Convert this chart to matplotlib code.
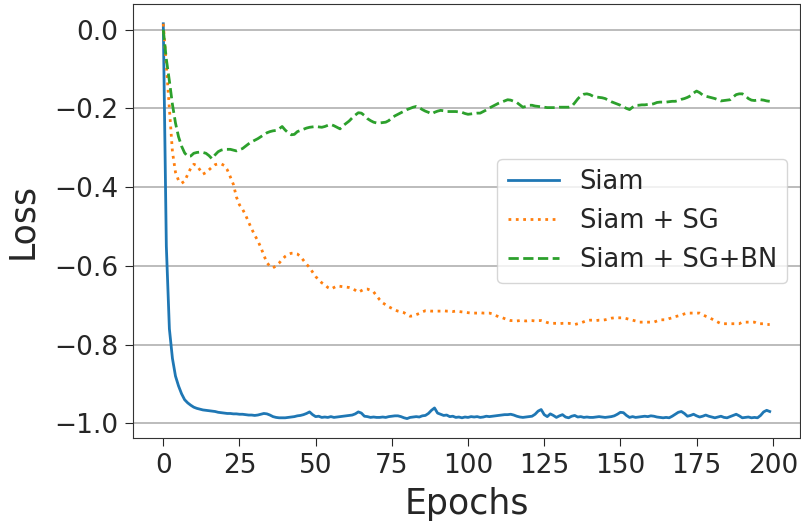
import matplotlib
matplotlib.use("Agg")
import matplotlib.pyplot as plt

# --------------------- DATOS --------------------- #
epochs = list(range(200))

siam = [
    0.015, -0.55, -0.76, -0.835, -0.88, -0.905, -0.925, -0.94, -0.948, -0.954,
    -0.959, -0.962, -0.964, -0.966, -0.967, -0.968, -0.969, -0.970, -0.972, -0.973,
    -0.974, -0.975, -0.975, -0.976, -0.976, -0.977, -0.977, -0.978, -0.979, -0.979,
    -0.980, -0.979, -0.977, -0.975, -0.976, -0.979, -0.983, -0.985, -0.986, -0.986,
    -0.986, -0.985, -0.984, -0.983, -0.981, -0.980, -0.978, -0.975, -0.971, -0.978,
    -0.983, -0.982, -0.985, -0.984, -0.985, -0.983, -0.985, -0.984, -0.983, -0.982,
    -0.981, -0.980, -0.979, -0.976, -0.971, -0.974, -0.982, -0.983, -0.985, -0.984,
    -0.985, -0.985, -0.984, -0.985, -0.983, -0.982, -0.981, -0.981, -0.983, -0.986,
    -0.988, -0.985, -0.984, -0.983, -0.984, -0.981, -0.980, -0.975, -0.967, -0.961,
    -0.974, -0.977, -0.980, -0.979, -0.983, -0.982, -0.985, -0.984, -0.986, -0.984,
    -0.985, -0.983, -0.984, -0.983, -0.985, -0.984, -0.982, -0.983, -0.982, -0.981,
    -0.980, -0.979, -0.978, -0.978, -0.977, -0.979, -0.982, -0.984, -0.985, -0.984,
    -0.983, -0.982, -0.977, -0.969, -0.965, -0.978, -0.983, -0.976, -0.980, -0.985,
    -0.981, -0.978, -0.984, -0.986, -0.982, -0.980, -0.984, -0.983, -0.985, -0.984,
    -0.985, -0.985, -0.984, -0.983, -0.984, -0.985, -0.984, -0.983, -0.981, -0.977,
    -0.972, -0.973, -0.980, -0.985, -0.983, -0.985, -0.984, -0.983, -0.982, -0.983,
    -0.981, -0.982, -0.984, -0.985, -0.986, -0.985, -0.986, -0.982, -0.977, -0.972,
    -0.970, -0.975, -0.982, -0.980, -0.977, -0.981, -0.984, -0.982, -0.979, -0.982,
    -0.984, -0.986, -0.984, -0.982, -0.985, -0.986, -0.983, -0.980, -0.977, -0.981,
    -0.986, -0.985, -0.984, -0.986, -0.985, -0.986, -0.980, -0.971, -0.967, -0.970,
]

siam_sg = [
    0.015, -0.09, -0.20, -0.31, -0.362, -0.383, -0.390, -0.385, -0.368, -0.352,
    -0.342, -0.345, -0.356, -0.367, -0.363, -0.356, -0.349, -0.343, -0.341, -0.341,
    -0.345, -0.356, -0.374, -0.393, -0.425, -0.445, -0.456, -0.471, -0.489, -0.506,
    -0.522, -0.536, -0.553, -0.573, -0.592, -0.601, -0.605, -0.600, -0.593, -0.584,
    -0.576, -0.571, -0.568, -0.568, -0.570, -0.576, -0.586, -0.596, -0.604, -0.616,
    -0.627, -0.636, -0.643, -0.648, -0.655, -0.659, -0.655, -0.651, -0.652, -0.653,
    -0.654, -0.655, -0.657, -0.662, -0.667, -0.663, -0.659, -0.659, -0.662, -0.666,
    -0.676, -0.686, -0.694, -0.699, -0.704, -0.708, -0.712, -0.715, -0.717, -0.719,
    -0.724, -0.728, -0.727, -0.724, -0.721, -0.717, -0.714, -0.714, -0.715, -0.715,
    -0.715, -0.715, -0.714, -0.715, -0.715, -0.716, -0.715, -0.716, -0.717, -0.718,
    -0.719, -0.720, -0.720, -0.720, -0.719, -0.720, -0.720, -0.720, -0.722, -0.726,
    -0.729, -0.731, -0.734, -0.737, -0.739, -0.739, -0.740, -0.739, -0.739, -0.740,
    -0.739, -0.739, -0.740, -0.739, -0.739, -0.741, -0.744, -0.746, -0.746, -0.746,
    -0.747, -0.746, -0.746, -0.746, -0.747, -0.749, -0.747, -0.745, -0.742, -0.739,
    -0.738, -0.738, -0.739, -0.738, -0.738, -0.737, -0.735, -0.733, -0.732, -0.732,
    -0.732, -0.732, -0.734, -0.736, -0.738, -0.740, -0.743, -0.743, -0.743, -0.743,
    -0.743, -0.743, -0.740, -0.737, -0.737, -0.737, -0.734, -0.732, -0.729, -0.727,
    -0.725, -0.722, -0.720, -0.720, -0.720, -0.720, -0.720, -0.724, -0.728, -0.731,
    -0.735, -0.739, -0.743, -0.747, -0.747, -0.747, -0.747, -0.747, -0.747, -0.747,
    -0.743, -0.743, -0.743, -0.743, -0.743, -0.747, -0.747, -0.747, -0.749, -0.749,
]

siam_sg_bn = [
    0.000, -0.075, -0.13, -0.19, -0.237, -0.272, -0.296, -0.313, -0.322, -0.321,
    -0.314, -0.312, -0.311, -0.312, -0.314, -0.320, -0.328, -0.318, -0.310, -0.306,
    -0.304, -0.304, -0.304, -0.306, -0.308, -0.305, -0.302, -0.296, -0.290, -0.285,
    -0.281, -0.277, -0.272, -0.267, -0.262, -0.259, -0.257, -0.256, -0.252, -0.246,
    -0.255, -0.262, -0.267, -0.266, -0.259, -0.256, -0.253, -0.250, -0.248, -0.247,
    -0.246, -0.247, -0.248, -0.246, -0.243, -0.241, -0.244, -0.248, -0.252, -0.244,
    -0.238, -0.232, -0.224, -0.217, -0.211, -0.212, -0.218, -0.226, -0.231, -0.235,
    -0.237, -0.237, -0.236, -0.235, -0.231, -0.224, -0.219, -0.215, -0.211, -0.207,
    -0.203, -0.200, -0.197, -0.195, -0.198, -0.203, -0.207, -0.210, -0.214, -0.210,
    -0.207, -0.205, -0.206, -0.208, -0.208, -0.208, -0.208, -0.209, -0.210, -0.213,
    -0.215, -0.214, -0.213, -0.212, -0.212, -0.208, -0.204, -0.199, -0.195, -0.191,
    -0.187, -0.184, -0.181, -0.178, -0.179, -0.182, -0.185, -0.191, -0.197, -0.195,
    -0.192, -0.192, -0.194, -0.195, -0.196, -0.197, -0.198, -0.198, -0.198, -0.198,
    -0.197, -0.197, -0.197, -0.197, -0.195, -0.186, -0.176, -0.168, -0.164, -0.163,
    -0.165, -0.169, -0.171, -0.172, -0.173, -0.175, -0.179, -0.183, -0.186, -0.189,
    -0.192, -0.196, -0.200, -0.203, -0.197, -0.192, -0.192, -0.191, -0.191, -0.190,
    -0.190, -0.188, -0.185, -0.184, -0.184, -0.184, -0.183, -0.182, -0.182, -0.180,
    -0.177, -0.175, -0.172, -0.168, -0.161, -0.156, -0.160, -0.166, -0.169, -0.171,
    -0.173, -0.175, -0.178, -0.181, -0.180, -0.179, -0.178, -0.171, -0.165, -0.163,
    -0.163, -0.168, -0.175, -0.179, -0.180, -0.179, -0.178, -0.179, -0.181, -0.182,
]

# --------------------- GRAFICO --------------------- #
plt.rcParams["text.color"] = "#262626"
plt.rcParams["axes.labelcolor"] = "#262626"
plt.rcParams["xtick.color"] = "#262626"
plt.rcParams["ytick.color"] = "#262626"

fig = plt.figure(figsize=(8.01, 5.29), dpi=100)
ax = fig.add_axes([0.166, 0.1714, 0.8328, 0.821])

ax.plot(epochs, siam, color="tab:blue", linewidth=2, label="Siam")
ax.plot(epochs, siam_sg, color="tab:orange", linewidth=2, linestyle=":", label="Siam + SG")
ax.plot(epochs, siam_sg_bn, color="tab:green", linewidth=2, linestyle="--", label="Siam + SG+BN")

ax.set_xticks([0, 25, 50, 75, 100, 125, 150, 175, 200])
ax.set_yticks([0.0, -0.2, -0.4, -0.6, -0.8, -1.0])
ax.tick_params(labelsize=19, length=5.5, pad=5)
ax.grid(axis="y", color="#b0b0b0", linewidth=1.2)
ax.set_axisbelow(True)
for s in ax.spines.values():
    s.set_color("#333333")

ax.set_xlabel("Epochs", fontsize=25, labelpad=6)
ax.set_ylabel("Loss", fontsize=25, labelpad=11)
ax.legend(loc="center right", fontsize=18.5)

fig.savefig("out.png", dpi=100)
